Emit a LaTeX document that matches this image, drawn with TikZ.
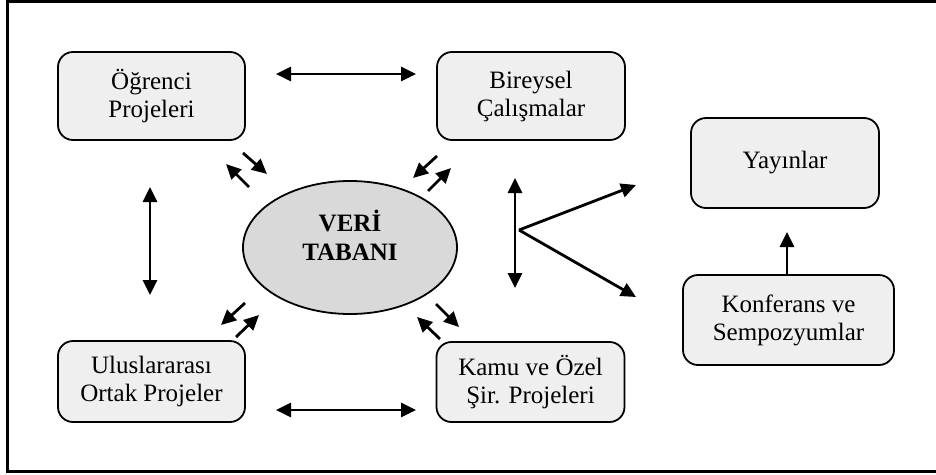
\documentclass[tikz,border=0pt]{standalone}
\usepackage{fontspec}
\setmainfont{Liberation Serif}
\usetikzlibrary{arrows.meta,shapes.geometric}
\begin{document}
\begin{tikzpicture}[x=1pt,y=-1pt,
  boxnode/.style={draw=black,line width=1.8pt,fill=boxgray,rounded corners=15pt,
    align=center,inner sep=0pt,font=\fontsize{25}{28}\selectfont},
  arr/.style={line width=2.8pt,-{Triangle[length=15pt,width=14pt]}},
  darr/.style={line width=2.8pt,{Triangle[length=15pt,width=14pt]}-{Triangle[length=15pt,width=14pt]}},
]
\definecolor{boxgray}{HTML}{EFEFEF}
\definecolor{ellgray}{HTML}{D9D9D9}
\useasboundingbox (0,0) rectangle (936,474);
\draw[line width=3pt] (950,1.5) -- (7.5,1.5) -- (7.5,471.5) -- (950,471.5);

\node[boxnode,minimum width=187pt,minimum height=88pt] (ogr) at (151.5,96) {Öğrenci\\Projeleri};
\node[boxnode,minimum width=188pt,minimum height=88pt] (bir) at (531,96) {Bireysel\\Çalışmalar};
\node[boxnode,minimum width=188pt,minimum height=90pt] (yay) at (785,163) {Yayınlar};
\node[boxnode,minimum width=211pt,minimum height=90pt] (kon) at (788.5,320) {Konferans ve\\Sempozyumlar};
\node[boxnode,minimum width=187pt,minimum height=81pt] (ulu) at (151.5,381.5) {Uluslararası\\Ortak Projeler};
\node[boxnode,minimum width=188pt,minimum height=80pt] (kam) at (530.5,382) {Kamu ve Özel\\Şir. Projeleri};
\node[ellipse,draw=black,line width=1.8pt,fill=ellgray,minimum width=214pt,minimum height=133pt,
  inner sep=0pt,align=center,font=\fontsize{25}{29}\bfseries\selectfont] (vt) at (350,247.5) {VERİ\\TABANI\\[-4pt]};

% big arrows
\coordinate (t1) at (276,74); \coordinate (t2) at (416,74);
\draw[darr] (t1) -- (t2);
\coordinate (b1) at (276,410); \coordinate (b2) at (416,410);
\draw[darr] (b1) -- (b2);
\coordinate (l1) at (150,187); \coordinate (l2) at (150,295);
\draw[darr] (l1) -- (l2);
\coordinate (r1) at (515,178); \coordinate (r2) at (515,288);
\draw[darr] (r1) -- (r2);
\coordinate (kv) at (519,230);
\coordinate (ku) at (636,185); \coordinate (kd) at (636,297);
\draw[arr] (kv) -- (ku);
\draw[arr] (kv) -- (kd);
\coordinate (kt) at (787,275); \coordinate (yt) at (787,232);
\draw[arr] (kt) -- (yt);

% small arrows
\coordinate (a1s) at (243,153); \coordinate (a1e) at (267,174);
\coordinate (a2s) at (249,187); \coordinate (a2e) at (226,164);
\coordinate (a3s) at (437,156); \coordinate (a3e) at (413,178);
\coordinate (a4s) at (428,191); \coordinate (a4e) at (451,168);
\coordinate (a5s) at (245,303); \coordinate (a5e) at (221,325);
\coordinate (a6s) at (236,337); \coordinate (a6e) at (259,315);
\coordinate (a7s) at (436,304); \coordinate (a7e) at (459,327);
\coordinate (a8s) at (440,339); \coordinate (a8e) at (417,317);
\foreach \i in {1,...,8} {\draw[arr] (a\i s) -- (a\i e);}
\end{tikzpicture}
\end{document}
